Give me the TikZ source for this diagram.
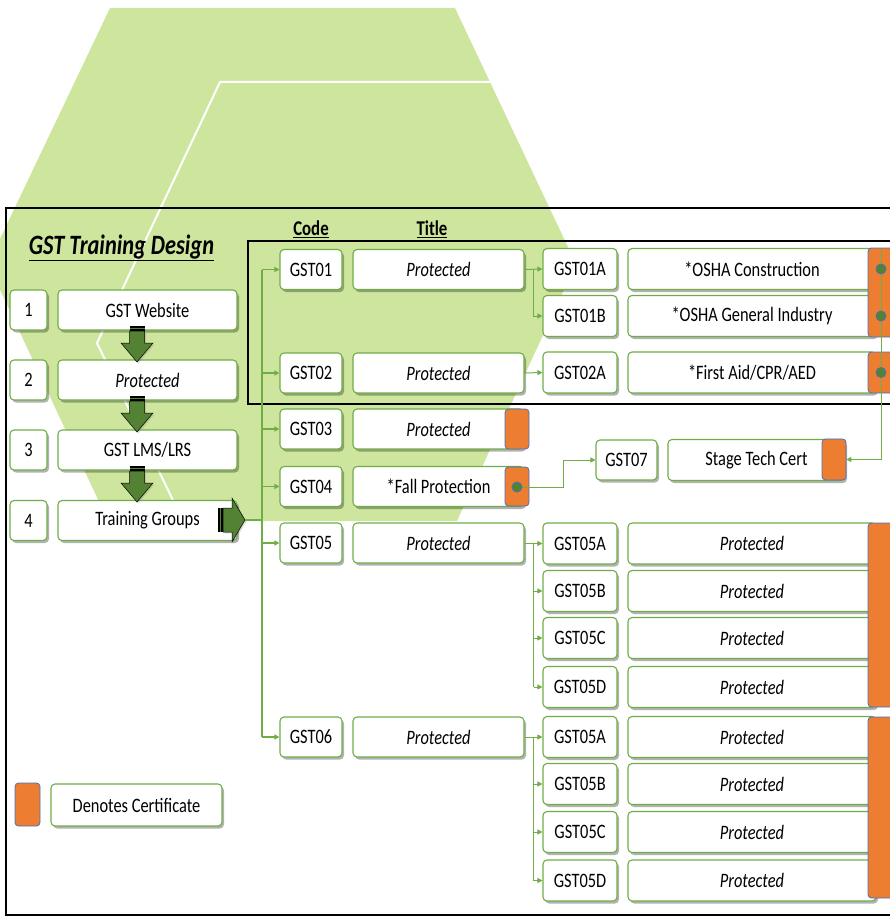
\documentclass[tikz,border=0pt]{standalone}
\usepackage{fontspec}
\setmainfont{Carlito}[FakeStretch=0.8]
\usetikzlibrary{arrows.meta,shadows,calc}
\definecolor{hexg}{RGB}{206,229,157}
\definecolor{lg}{RGB}{112,173,71}
\definecolor{dg}{RGB}{84,130,53}
\definecolor{org}{RGB}{237,125,49}
\definecolor{bl}{RGB}{68,114,196}
\newcommand\gstdown[2]{%
  \fill[black] (#1-7.5,#2) rectangle (#1+7.5,#2+5);
  \draw[dg,line width=0.6pt] (#1-7.5,#2+2.6) -- (#1+7.5,#2+2.6);
  \draw[fill=dg,draw=black,line width=0.5pt,drop shadow={shadow xshift=1.5pt,shadow yshift=-1.5pt,opacity=0.25}]
    (#1-7.5,#2+5) -- (#1+7.5,#2+5) -- (#1+7.5,#2+17) -- (#1+16,#2+17) -- (#1,#2+36)
    -- (#1-16,#2+17) -- (#1-7.5,#2+17) -- cycle;}
\begin{document}
\begin{tikzpicture}[x=1pt,y=-1pt,
  box/.style={draw=lg,line width=1.1pt,fill=white,rounded corners=4pt,inner sep=0pt,
    font=\fontsize{20.5}{22}\selectfont,
    drop shadow={shadow xshift=2pt,shadow yshift=-2.5pt,opacity=0.3,fill=black}},
  cert/.style={draw=bl,line width=0.8pt,fill=org,rounded corners=3.5pt,inner sep=0pt},
  dot/.style={circle,draw=bl,line width=0.6pt,fill=dg,minimum size=10pt,inner sep=0pt},
  trunk/.style={lg,line width=1.5pt},
  subc/.style={lg,line width=1pt},
  tip/.style={-{Triangle[length=5pt,width=5pt]}},
  head/.style={font=\fontsize{21}{24}\selectfont\bfseries}]
\useasboundingbox (0,0) rectangle (890,917);
\clip (0,0) rectangle (890,917);
% background hexagon
\fill[hexg] (110,8) -- (455,8) -- (576,264) -- (457,521) -- (108,521) -- (-12,264) -- cycle;
\draw[white,line width=2pt] (490,82) -- (220,82) -- (97,343) -- (183,521);
% frames
\draw[line width=2pt] (6,208) rectangle (905,915);
\draw[line width=2pt] (248,241) rectangle (905,404);
% title and headers
\node[font=\fontsize{28}{30}\selectfont\bfseries\itshape] (ttl) at (121.5,248) {\underline{GST Training Design}};
\node[head] (hcode) at (311,229) {\underline{Code}};
\node[head] (htitle) at (432,229) {\underline{Title}};
% left column
\foreach \i/\y/\t in {1/310/{GST Website},2/380/{\textit{Protected}},3/450/{GST LMS/LRS},4/520.5/{Training Groups}}{
  \node[box,minimum width=37pt,minimum height=40pt] (n\i) at (28.5,\y) {\i};
  \node[box,minimum width=179pt,minimum height=40pt] (s\i) at (147.5,\y) {\t};
}
\gstdown{137}{326}
\gstdown{137}{396}
\gstdown{137}{466}
% right arrow at training groups
\fill[black] (218,508) rectangle (223,532);
\draw[dg,line width=0.6pt] (220.5,508) -- (220.5,532);
\draw[fill=dg,draw=black,line width=0.5pt,drop shadow={shadow xshift=1.5pt,shadow yshift=-1.5pt,opacity=0.25}]
  (223,508) -- (232,508) -- (232,498) -- (245,520) -- (232,542) -- (232,532) -- (223,532) -- cycle;
\coordinate (tgtip) at (245,520);
% code and title boxes
\foreach \c/\y/\t in {01/269.5/{\textit{Protected}},02/373/{\textit{Protected}},03/429/{\textit{Protected}},04/486.5/{*Fall Protection},05/543/{\textit{Protected}},06/737/{\textit{Protected}}}{
  \node[box,minimum width=62pt,minimum height=40pt] (c\c) at (311,\y) {GST\c};
  \node[box,minimum width=171pt,minimum height=40pt] (t\c) at (438.5,\y) {\t};
}
\node[cert,minimum width=24pt,minimum height=40pt] (o03) at (517,429) {};
\node[cert,minimum width=24pt,minimum height=39pt] (o04) at (517,486.5) {};
% trunk
\coordinate (trT) at (262,269.5);
\coordinate (trB) at (262,737);
\draw[trunk] (trT) -- (trB);
\draw[trunk] (tgtip) -- (tgtip -| trT);
\foreach \c in {01,02,03,04,05,06}{
  \draw[trunk,tip] (c\c.west -| trT) -- (c\c.west);
}
% sub boxes GST01/02
\foreach \n/\m/\y/\t in {01a/01A/269/{*OSHA Construction},01b/01B/316/{*OSHA General Industry},02a/02A/372.5/{*First Aid/CPR/AED}}{
  \node[box,minimum width=74pt,minimum height=41pt] (sc\n) at (580,\y) {GST\m};
  \node[box,minimum width=248pt,minimum height=41pt] (lb\n) at (752,\y) {\t};
}
\coordinate (j01) at ($(t01.east)+(9,0)$);
\draw[subc,tip] (t01.east) -- (sc01a.west);
\draw[subc,tip] (j01) |- (sc01b.west);
\draw[subc,tip] (t02.east) -- (sc02a.west);
\node[cert,minimum width=37pt,minimum height=89pt] (o01) at (886.5,292.5) {};
\node[cert,minimum width=37pt,minimum height=41pt] (o02) at (886.5,372.5) {};
% GST07 / stage tech
\node[box,minimum width=61pt,minimum height=40pt] (g07) at (626.5,460) {GST07};
\node[box,minimum width=177pt,minimum height=41pt] (stc) at (756.5,460) {Stage Tech Cert};
\node[cert,minimum width=24pt,minimum height=41pt] (ost) at (834,459.5) {};
\coordinate (dtop) at (881,249);
\node[dot] (d01a) at (881,269) {};
\node[dot] (d01b) at (881,316) {};
\node[dot] (d02a) at (881,372.5) {};
\node[dot] (d04) at (517,487) {};
\draw[subc,tip] (dtop) -- (d02a.center) |- (ost.east);
\draw[subc,tip] (d04.center) -- ++(46,0) |- (g07.west);
\node[dot] at (d01a) {};
\node[dot] at (d01b) {};
\node[dot] at (d02a) {};
\node[dot] at (d04) {};
% GST05 group
\foreach \q/\Q/\y in {a/A/543.5,b/B/591,c/C/638,d/D/687}{
  \node[box,minimum width=74pt,minimum height=41pt] (s05\q) at (580,\y) {GST05\Q};
  \node[box,minimum width=248pt,minimum height=41pt] (lb05\q) at (752,\y) {\textit{Protected}};
}
\coordinate (j05) at ($(t05.east)+(9,0)$);
\draw[subc] (t05.east) -- (j05) -- (j05 |- s05d.west);
\foreach \q in {a,b,c,d}{\draw[subc,tip] (j05 |- s05\q.west) -- (s05\q.west);}
\node[cert,minimum width=37pt,minimum height=184pt] (o05) at (886.5,615) {};
% GST06 group
\foreach \q/\Q/\y in {a/A/737,b/B/784,c/C/832,d/D/880.5}{
  \node[box,minimum width=74pt,minimum height=41pt] (s06\q) at (580,\y) {GST05\Q};
  \node[box,minimum width=248pt,minimum height=41pt] (lb06\q) at (752,\y) {\textit{Protected}};
}
\coordinate (j06) at ($(t06.east)+(9,0)$);
\draw[subc] (t06.east) -- (j06) -- (j06 |- s06d.west);
\foreach \q in {a,b,c,d}{\draw[subc,tip] (j06 |- s06\q.west) -- (s06\q.west);}
\node[cert,minimum width=37pt,minimum height=181pt] (o06) at (886.5,807.5) {};
% legend
\node[cert,minimum width=25pt,minimum height=43pt] (lgo) at (27.5,804.5) {};
\node[box,minimum width=171pt,minimum height=42pt] (lgb) at (136.5,805) {Denotes Certificate};
\end{tikzpicture}
\end{document}
